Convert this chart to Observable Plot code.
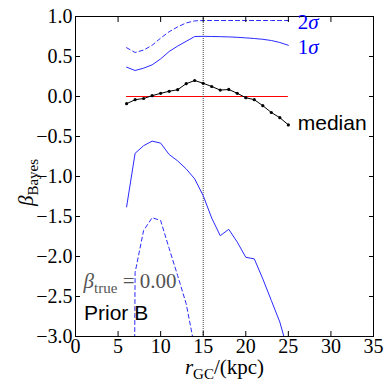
<!DOCTYPE html>
<html><head><meta charset="utf-8">
<script src="https://cdn.jsdelivr.net/npm/d3@7"></script>
<script src="https://cdn.jsdelivr.net/npm/@observablehq/plot@0.6"></script>
<style>html,body{margin:0;padding:0;background:#fff}svg{display:block}</style>
</head><body><div id="chart"></div>
<script>
// r_GC (kpc)
const rGC = [6,7,8,9,10,11,12,13,14,15,16,17,18,19,20,21,22,23,24,25];
const median = [-0.09,-0.04,-0.025,0.01,0.04,0.065,0.085,0.16,0.2,0.165,0.125,0.08,0.088,0.04,-0.015,-0.04,-0.115,-0.2,-0.265,-0.355];
const upper1 = [0.367,0.325,0.354,0.396,0.47,0.563,0.63,0.69,0.75,0.752,0.75,0.748,0.745,0.74,0.733,0.725,0.715,0.70,0.675,0.64];
const lower1 = [-1.38,-0.71,-0.615,-0.558,-0.583,-0.725,-0.805,-0.905,-1.03,-1.24,-1.52,-1.74,-1.66,-1.82,-2.01,-2.03,-2.28,-2.55,-2.82,-3.2];
const upper2 = [0.61,0.55,0.58,0.64,0.73,0.81,0.87,0.92,0.945,0.95,0.95,0.95,0.95,0.95,0.95,0.95,0.95,0.95,0.95,0.95];
const lower2 = [-20,-2.2,-1.675,-1.515,-1.55,-1.9,-2.24,-2.59,-3.14,null,null,null,null,null,null,null,null,null,null,null];
const betaTrue = 0.0;
const rMark = 15;
const xTicks = [0,5,10,15,20,25,30,35];
const yTicks = [-3,-2.5,-2,-1.5,-1,-0.5,0,0.5,1];
// annotation labels
const sigmaLabels = ["2σ","1σ"];
const sigmaX = [26.1,26.1];
const sigmaY = [0.93,0.62];
const medianLabel = "median";
const medianLabelPos = [26.1,-0.34];
const priorLabel = "Prior B";
const priorLabelPos = [1.0,-2.71];
const trueLabelPos = [0.95,-2.31];

const rows = rGC.map((r,i)=>({r, median:median[i], u1:upper1[i], l1:lower1[i], u2:upper2[i], l2:lower2[i]}));
const fmtY = d => d3.format(".1f")(d);
const serif = "'Liberation Serif', 'DejaVu Serif', serif";
const sans = "'Liberation Sans', Arial, sans-serif";

const chart = Plot.plot({
  width: 390, height: 390,
  marginLeft: 75, marginRight: 17, marginTop: 16, marginBottom: 54,
  x: {domain: [0,35]},
  y: {domain: [-3,1]},
  style: {fontFamily: serif, background: "#fff", color: "#000"},
  marks: [
    Plot.ruleY([betaTrue], {x1: rGC[0], x2: rGC[rGC.length-1], stroke: "#ff0000", strokeWidth: 1}),
    Plot.ruleX([rMark], {stroke: "#444", strokeWidth: 1, strokeDasharray: "1,1"}),
    Plot.line(rows, {x: "r", y: "u2", stroke: "#2a2aff", strokeWidth: 1, strokeDasharray: "4,3", clip: true}),
    Plot.line(rows, {x: "r", y: "l2", stroke: "#2a2aff", strokeWidth: 1, strokeDasharray: "4,3", clip: true}),
    Plot.line(rows, {x: "r", y: "u1", stroke: "#2a2aff", strokeWidth: 1, clip: true}),
    Plot.line(rows, {x: "r", y: "l1", stroke: "#2a2aff", strokeWidth: 1, clip: true}),
    Plot.line(rows, {x: "r", y: "median", stroke: "#000", strokeWidth: 1}),
    Plot.dot(rows, {x: "r", y: "median", r: 1.6, fill: "#000", stroke: null}),
    Plot.frame({stroke: "#000", strokeWidth: 1}),
    Plot.axisX({ticks: xTicks, tickSize: -5, tickPadding: 7, tickFormat: d => String(d), label: null, fontSize: 20}),
    Plot.axisX({anchor: "top", ticks: xTicks, tickSize: -5, tickFormat: () => "", label: null}),
    Plot.axisY({ticks: yTicks, tickSize: -5, tickPadding: 8, tickFormat: fmtY, label: null, fontSize: 20}),
    Plot.axisY({anchor: "right", ticks: yTicks, tickSize: -5, tickFormat: () => "", label: null}),
    Plot.text(sigmaLabels, {x: (d,i) => sigmaX[i], y: (d,i) => sigmaY[i], text: d => d, textAnchor: "start", fill: "#0000ff", fontSize: 21, fontFamily: serif, ariaLabel: () => "sigma-labels"}),
    Plot.text([medianLabel], {x: () => medianLabelPos[0], y: () => medianLabelPos[1], text: d => d, textAnchor: "start", fill: "#000", fontSize: 21, fontFamily: sans}),
    Plot.text([priorLabel], {x: () => priorLabelPos[0], y: () => priorLabelPos[1], text: d => d, textAnchor: "start", fill: "#000", fontSize: 21, fontFamily: sans}),
    Plot.text(["β"], {x: () => trueLabelPos[0], y: () => trueLabelPos[1], text: d => d, textAnchor: "start", fill: "#555", fontSize: 21, fontFamily: serif, ariaLabel: () => "true-label"}),
    Plot.text(["β"], {frameAnchor: "left", dx: -49, dy: 6, rotate: -90, textAnchor: "middle", fill: "#000", fontSize: 21, fontFamily: serif, ariaLabel: () => "y-label"}),
    Plot.text(["r"], {frameAnchor: "bottom", dy: 37, textAnchor: "middle", fill: "#000", fontSize: 21, fontFamily: serif, ariaLabel: () => "x-label"})
  ]
});

function rich(svg, label, parts) {
  d3.select(svg).selectAll(`text[aria-label="${label}"]`).each(function() {
    const t = d3.select(this);
    t.text(null);
    let shift = 0;
    for (const p of parts) {
      const ts = t.append("tspan").text(p.t);
      if (p.italic) ts.attr("font-style", "italic");
      const target = p.sub ? 5 : 0;
      if (target !== shift) { ts.attr("dy", target - shift); shift = target; }
      if (p.sub) ts.attr("font-size", 15);
    }
  });
}
d3.select(chart).selectAll('text[aria-label="sigma-labels"]').each(function(d, i) {
  const t = d3.select(this); t.text(null);
  t.append("tspan").text(sigmaLabels[i][0]);
  t.append("tspan").attr("font-style", "italic").text(sigmaLabels[i].slice(1));
});
rich(chart, "true-label", [{t: "β", italic: true}, {t: "true", sub: true}, {t: " = 0.00"}]);
rich(chart, "y-label", [{t: "β", italic: true}, {t: "Bayes", sub: true}]);
rich(chart, "x-label", [{t: "r", italic: true}, {t: "GC", sub: true}, {t: "/(kpc)"}]);
document.getElementById("chart").appendChild(chart);
</script>
</body></html>
